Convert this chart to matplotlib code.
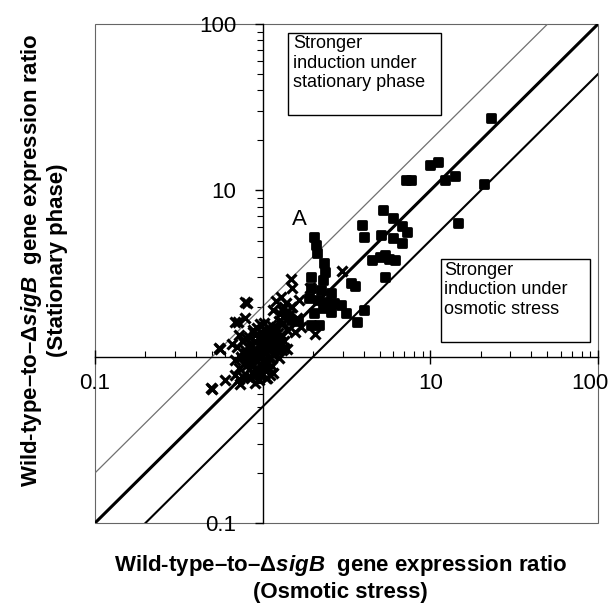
import matplotlib

matplotlib.use("Agg")
import matplotlib.pyplot as plt
from matplotlib.markers import MarkerStyle
from matplotlib.patches import Rectangle
from matplotlib.ticker import FixedFormatter, FixedLocator, LogLocator, NullFormatter
from matplotlib.transforms import ScaledTranslation

plt.rcParams["font.family"] = ["Liberation Sans", "DejaVu Sans"]
plt.rcParams["mathtext.fontset"] = "custom"
plt.rcParams["mathtext.bfit"] = "Liberation Sans:italic:bold"
plt.rcParams["mathtext.it"] = "Liberation Sans:italic"
plt.rcParams["mathtext.rm"] = "Liberation Sans"

# Genes with larger induction (filled squares): osmotic ratio, stationary ratio
sq_x = [23.2, 10.0, 11.2, 7.2, 7.7, 12.3, 14.0, 21.0, 14.7, 5.2, 6.0, 3.9, 4.0, 5.1,
        6.8, 7.3, 6.0, 6.8, 5.4, 5.0, 4.5, 5.7, 6.2, 5.4, 3.55, 4.0, 3.66,
        2.02, 2.08, 2.1, 2.32, 2.35, 1.94, 2.29, 1.94, 2.22, 2.55, 1.89, 2.13,
        2.38, 2.66, 2.93, 2.29, 2.55, 3.14, 2.02, 1.94, 2.16, 3.37, 1.37, 1.47, 1.62]
sq_y = [27.2, 14.2, 14.8, 11.6, 11.5, 11.6, 12.2, 10.9, 6.4, 7.6, 6.8, 6.2, 5.25, 5.4,
        6.1, 5.6, 5.2, 4.8, 4.1, 4.0, 3.8, 3.85, 3.8, 3.0, 2.67, 1.91, 1.62,
        5.26, 4.7, 4.2, 3.67, 3.24, 3.02, 2.9, 2.6, 2.53, 2.42, 2.26, 2.2,
        2.14, 2.11, 2.05, 1.97, 1.86, 1.84, 1.84, 1.56, 1.56, 2.78, 1.79, 1.67, 1.64]

# Remaining genes (crosses)
cr_x = [0.50, 0.60, 0.73, 0.56, 0.71, 0.81, 0.78, 0.96, 1.47, 1.49, 1.50, 2.97, 1.91,
        2.05, 1.39, 1.27, 1.21, 1.15, 1.10, 1.09, 0.92, 1.06, 0.90, 0.72, 0.49,
        1.35, 1.47, 0.79, 0.68, 0.55, 1.28, 1.35,
        0.68, 0.70, 0.72, 0.74, 0.75, 0.77, 0.78, 0.80, 0.80, 0.82, 0.83, 0.84,
        0.86, 0.87, 0.88, 0.89, 0.90, 0.92, 0.93, 0.94, 0.95, 0.96, 0.97, 0.98, 1.00,
        1.00, 1.02, 1.03, 1.04, 1.05, 1.06, 1.08, 1.10, 1.10, 1.12, 1.14, 1.15, 1.18,
        1.20, 1.22, 1.25, 1.28, 1.30, 1.33, 1.35, 1.40, 0.76, 0.85, 0.66,
        0.72, 0.90, 1.05, 1.15, 1.55, 1.45, 1.60, 1.38, 1.30, 1.70, 1.65, 0.88, 1.02,
        0.68, 0.82, 0.95, 1.25, 1.12, 0.98, 1.08,
        0.84, 0.88, 0.92, 0.96, 1.00, 1.04, 1.08, 1.12, 1.16, 0.86, 0.90, 0.94, 0.98,
        1.02, 1.06, 1.10, 1.14, 1.20, 0.80, 0.85, 0.90, 0.95, 1.00, 1.05, 1.10, 1.18,
        1.24, 0.92, 0.97, 1.03, 1.09, 1.15, 1.22, 1.28, 0.78, 0.83, 0.88, 0.93]
cr_y = [0.64, 0.72, 0.69, 1.12, 1.62, 2.10, 1.70, 1.57, 2.94, 2.60, 2.00, 3.30, 2.60,
        1.37, 1.12, 1.81, 2.15, 1.92, 0.78, 0.85, 0.79, 0.74, 0.79, 0.73, 0.65,
        1.13, 2.00, 2.14, 1.62, 1.13, 2.30, 2.00,
        0.95, 1.15, 0.85, 1.00, 1.25, 0.90, 1.10, 0.88, 1.30, 0.95, 1.05, 1.20,
        0.80, 0.88, 1.00, 1.12, 1.35, 0.82, 0.95, 1.05, 1.18, 0.78, 0.90, 1.00, 1.10,
        1.28, 0.84, 0.97, 1.45, 1.05, 1.20, 0.92, 1.00, 1.35, 1.12, 0.88, 1.25, 1.05,
        1.50, 1.18, 0.98, 1.35, 1.10, 1.60, 1.25, 1.45, 0.76, 0.74, 1.20,
        1.35, 0.70, 0.75, 0.80, 1.40, 1.80, 1.70, 2.10, 1.90, 1.50, 2.20, 1.45, 1.60,
        0.78, 0.76, 0.72, 1.65, 1.55, 1.40, 0.84,
        1.00, 1.06, 1.10, 1.14, 1.18, 1.22, 1.26, 1.30, 1.36, 0.92, 0.96, 1.00, 1.04,
        1.08, 1.12, 1.16, 1.20, 1.26, 1.05, 1.15, 1.24, 1.30, 1.36, 1.40, 1.44, 1.42,
        1.38, 0.86, 0.90, 0.94, 0.98, 1.02, 1.08, 1.22, 1.00, 1.32, 1.40, 1.48]

ref_x = [0.1, 100]
fold_up = 2.0
fold_down = 0.5

tick_vals = [0.1, 1, 10, 100]
tick_labels = ["0.1", "", "10", "100"]

fig = plt.figure(figsize=(6.14, 6.05), dpi=100)
ax = fig.add_axes([0.1547, 0.1355, 0.819, 0.8245])
ax.set_xscale("log")
ax.set_yscale("log")
ax.set_xlim(0.1, 100)
ax.set_ylim(0.1, 100)

ax.plot(ref_x, [v * fold_up for v in ref_x], color="#707070", lw=0.9, zorder=2)
ax.plot(ref_x, ref_x, color="black", lw=2.2, zorder=2)
ax.plot(ref_x, [v * fold_down for v in ref_x], color="black", lw=1.5, zorder=2)

ax.plot(cr_x, cr_y, "x", ms=6.5, mew=2.3, color="black", zorder=3)
ax.plot(sq_x, sq_y, linestyle="none", marker=MarkerStyle("s", joinstyle="round"),
        ms=5.5, mew=2.0, color="black", zorder=3)

# outer frame plus axes crossing at (1, 1)
ax.add_patch(Rectangle((0, 0), 1, 1, transform=ax.transAxes, fill=False,
                       ec="#666666", lw=0.8, clip_on=False))
for side in ("top", "right"):
    ax.spines[side].set_visible(False)
ax.spines["left"].set_position(("data", 1))
ax.spines["bottom"].set_position(("data", 1))
ax.spines["left"].set_linewidth(1.0)
ax.spines["bottom"].set_linewidth(1.0)

for axis in (ax.xaxis, ax.yaxis):
    axis.set_major_locator(FixedLocator(tick_vals))
    axis.set_major_formatter(FixedFormatter(tick_labels))
    axis.set_minor_locator(LogLocator(base=10, subs=range(2, 10)))
    axis.set_minor_formatter(NullFormatter())

ax.tick_params(axis="x", which="minor", direction="in", length=4, width=0.8)
ax.tick_params(axis="x", which="major", direction="inout", length=10, width=1.0,
               labelsize=16, pad=7)
ax.tick_params(axis="y", which="minor", direction="out", length=4, width=0.8)
ax.tick_params(axis="y", which="major", direction="out", length=6, width=1.0,
               labelsize=16, pad=13)

# the rightmost x label sits flush with the image edge, nudge it inwards
last_tick = ax.xaxis.get_major_ticks()[-1]
last_tick.label1.set_transform(last_tick.label1.get_transform()
                               + ScaledTranslation(-6 / 72, 0, fig.dpi_scale_trans))

box_kw = dict(transform=ax.transAxes, fill=False, ec="black", lw=1.0)
ax.add_patch(Rectangle((0.384, 0.818), 0.304, 0.164, **box_kw))
ax.add_patch(Rectangle((0.688, 0.363), 0.296, 0.166, **box_kw))
ax.text(0.394, 0.978, "Stronger\ninduction under\nstationary phase",
        transform=ax.transAxes, ha="left", va="top", fontsize=13, linespacing=1.2)
ax.text(0.694, 0.524, "Stronger\ninduction under\nosmotic stress",
        transform=ax.transAxes, ha="left", va="top", fontsize=13, linespacing=1.2)
ax.text(0.406, 0.609, "A", transform=ax.transAxes, ha="center", va="center", fontsize=16)

lab = r"Wild-type–to–Δ$\mathbfit{sigB}$  gene expression ratio"
fig.text(0.555, 0.066, lab, ha="center", va="center", fontsize=16, fontweight="bold")
fig.text(0.555, 0.020, "(Osmotic stress)", ha="center", va="center",
         fontsize=16, fontweight="bold")
fig.text(0.052, 0.570, lab, ha="center", va="center", rotation=90,
         fontsize=16, fontweight="bold")
fig.text(0.094, 0.570, "(Stationary phase)", ha="center", va="center", rotation=90,
         fontsize=16, fontweight="bold")

fig.savefig("out.png", dpi=100, facecolor="white")
